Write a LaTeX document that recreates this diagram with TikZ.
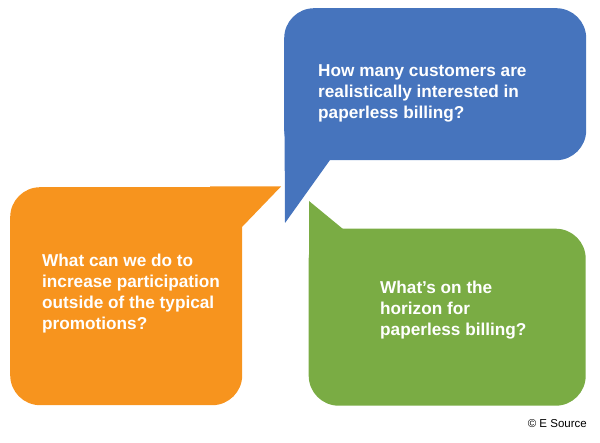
\documentclass[tikz,border=0pt]{standalone}
\usepackage{fontspec}
\setmainfont{Liberation Sans}
\definecolor{cblue}{HTML}{4674BD}
\definecolor{corange}{HTML}{F7941E}
\definecolor{cgreen}{HTML}{7AAC44}
\begin{document}
\begin{tikzpicture}[x=1pt,y=-1pt,
  bub/.style={rounded corners=30pt, inner sep=0pt, anchor=north west},
  txt/.style={align=left, anchor=west, inner sep=0pt, font=\bfseries\fontsize{17.2}{21}\selectfont, text=white}]
\useasboundingbox (0,0) rectangle (600,443);
% blue
\node[bub, fill=cblue, minimum width=302pt, minimum height=152pt] (b) at (284,8) {};
\fill[cblue] (284.5,120) -- (285,223) -- (330,160) -- (345,120) -- cycle;
% orange
\node[bub, fill=corange, minimum width=232pt, minimum height=218pt] (o) at (10,187) {};
\fill[corange] (210,186.5) -- (281,186.5) -- (242,227) -- (210,240) -- cycle;
% green
\node[bub, fill=cgreen, minimum width=277pt, minimum height=177pt] (g) at (308.5,228.5) {};
\fill[cgreen] (309,260) -- (309,201) -- (343,229) -- (360,260) -- cycle;
\node[txt] (bt) at (318,93) {How many customers are\\realistically interested in\\paperless billing?};
\node[txt] (ot) at (42,294) {What can we do to\\increase participation\\outside of the typical\\promotions?};
\node[txt] (gt) at (380,310) {What’s on the\\horizon for\\paperless billing?};
\node[anchor=east, font=\fontsize{11.5}{13}\selectfont, inner sep=0pt] (c) at (587,424) {© E Source};
\end{tikzpicture}
\end{document}
